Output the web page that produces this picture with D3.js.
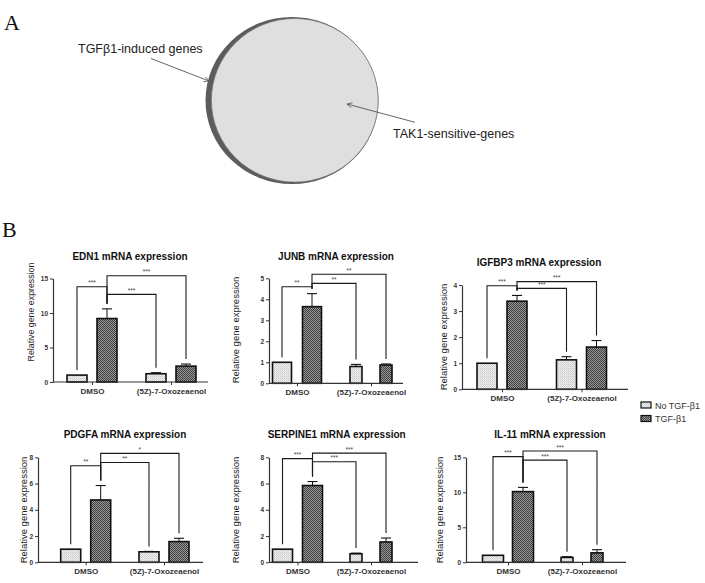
<!DOCTYPE html>
<html><head><meta charset="utf-8">
<script src="https://cdn.jsdelivr.net/npm/d3@7/dist/d3.min.js"></script>
<style>
html,body{margin:0;padding:0;background:#fff;}
svg{display:block;}
</style></head>
<body>
<svg id="fig" width="705" height="583"></svg>
<script>
// ---------------- DATA ----------------
const genes = ["EDN1", "JUNB", "IGFBP3", "PDGFA", "SERPINE1", "IL-11"];
const groups = ["DMSO", "(5Z)-7-Oxozeaenol"];
const series = ["No TGF-β1", "TGF-β1"];
const dmsoNo   = [1.0, 1.0, 1.0, 1.0, 1.0, 1.0];
const dmsoTgf  = [9.2, 3.65, 3.38, 4.75, 5.85, 10.1];
const oxoNo    = [1.2, 0.8, 1.13, 0.8, 0.65, 0.7];
const oxoTgf   = [2.3, 0.87, 1.62, 1.58, 1.55, 1.35];
const errDmsoNo  = [0, 0, 0, 0, 0, 0];
const errDmsoTgf = [1.4, 0.62, 0.22, 1.1, 0.3, 0.6];
const errOxoNo   = [0.15, 0.1, 0.12, 0.03, 0.05, 0.1];
const errOxoTgf  = [0.3, 0.05, 0.25, 0.25, 0.3, 0.45];
const yMax = [15, 5, 4, 8, 8, 15];
const yTicks = [[0,5,10,15],[0,1,2,3,4,5],[0,1,2,3,4],[0,2,4,6,8],[0,2,4,6,8],[0,5,10,15]];
// significance brackets (height in data units): DMSO TGF vs DMSO No / vs Oxo No / vs Oxo TGF
const brLeft = [13.8, 4.6, 3.97, 7.36, 7.9, 15.1];
const brNear = [12.7, 4.76, 3.87, 7.6, 7.66, 14.6];
const brFar  = [15.4, 5.19, 4.13, 8.3, 8.32, 15.9];
const starsLeft = ["***", "**", "***", "**", "***", "***"];
const starsNear = ["***", "**", "***", "**", "***", "***"];
const starsFar  = ["***", "**", "***", "*", "***", "***"];
const vennLabels = ["TGFβ1-induced genes", "TAK1-sensitive-genes"];

// ---------------- LAYOUT ----------------
const layout = [
 {x0:53,  x1:208, yb:382,   yt:278.5, g:[92,171],    bw:[20,20], tx:130,   ty:259.5, lx:31,    ly:312, lfs:8.8},
 {x0:269, x1:403, yb:383.3, yt:278.3, g:[297,371],   bw:[19,12], tx:336,   ty:259.5, lx:235.5, ly:330, lfs:9.5},
 {x0:462, x1:628, yb:389.3, yt:285,   g:[502,581.5], bw:[20,20], tx:539,   ty:266,   lx:444,   ly:337, lfs:9.5},
 {x0:38,  x1:203, yb:562.3, yt:457.3, g:[85.7,164],  bw:[20,20], tx:125,   ty:438,   lx:24,    ly:510, lfs:9.5},
 {x0:269, x1:418, yb:562.3, yt:457.3, g:[297.5,371], bw:[20,12], tx:336.7, ty:438,   lx:235.5, ly:510, lfs:9.5},
 {x0:466, x1:626, yb:562.3, yt:457.3, g:[508,582],   bw:[21,12], tx:550,   ty:438,   lx:440,   ly:510, lfs:9.5}
];
const SANS = "'Liberation Sans', Arial, sans-serif";
const SERIF = "'Liberation Serif', 'Times New Roman', serif";

const svg = d3.select("#fig");
const defs = svg.append("defs");
// patterns
const pL = defs.append("pattern").attr("id","pLight").attr("patternUnits","userSpaceOnUse").attr("width",2).attr("height",2);
pL.append("rect").attr("width",2).attr("height",2).attr("fill","#eeeeee");
pL.append("rect").attr("width",1).attr("height",1).attr("fill","#c8c8c8");
pL.append("rect").attr("x",1).attr("y",1).attr("width",1).attr("height",1).attr("fill","#d8d8d8");
const pD = defs.append("pattern").attr("id","pDark").attr("patternUnits","userSpaceOnUse").attr("width",2).attr("height",2);
pD.append("rect").attr("width",2).attr("height",2).attr("fill","#9a9a9a");
pD.append("rect").attr("width",1).attr("height",1).attr("fill","#3c3c3c");
pD.append("rect").attr("x",1).attr("y",1).attr("width",1).attr("height",1).attr("fill","#3c3c3c");
const fills = ["url(#pLight)","url(#pDark)"];
defs.append("marker").attr("id","arr").attr("viewBox","0 0 10 10").attr("refX",9).attr("refY",5)
  .attr("markerWidth",7).attr("markerHeight",7).attr("orient","auto-start-reverse")
  .append("path").attr("d","M1,1 L9,5 L1,9").attr("fill","none").attr("stroke","#555").attr("stroke-width",1.2);

// ---------------- PANEL A ----------------
svg.append("text").attr("x",4).attr("y",30).style("font-family",SERIF).style("font-size","22px").attr("fill","#111").text("A");
svg.append("text").attr("x",2).attr("y",237).style("font-family",SERIF).style("font-size","22px").attr("fill","#111").text("B");
svg.append("ellipse").attr("cx",292).attr("cy",100.5).attr("rx",86.5).attr("ry",83.5).attr("fill","#5c5c5c");
svg.append("ellipse").attr("cx",294.8).attr("cy",100.3).attr("rx",83.4).attr("ry",81.8).attr("fill","#dfdfdf").attr("stroke","#777").attr("stroke-width",0.7);
svg.append("text").attr("x",78).attr("y",52.5).style("font-family",SANS).style("font-size","12.5px").attr("fill","#222").text(vennLabels[0]);
svg.append("text").attr("x",393).attr("y",137.5).style("font-family",SANS).style("font-size","12.5px").attr("fill","#222").text(vennLabels[1]);
svg.append("line").attr("x1",151).attr("y1",58.5).attr("x2",209).attr("y2",81).attr("stroke","#555").attr("stroke-width",0.9).attr("marker-end","url(#arr)");
svg.append("line").attr("x1",415).attr("y1",122.3).attr("x2",347).attr("y2",104).attr("stroke","#555").attr("stroke-width",0.9).attr("marker-end","url(#arr)");

// ---------------- PANEL B ----------------
genes.forEach((gene, i) => {
  const L = layout[i];
  const g = svg.append("g").style("font-family",SANS);
  const y = d3.scaleLinear().domain([0, yMax[i]]).range([L.yb, L.yt]);
  const x = d3.scalePoint().domain(groups).range(L.g);
  const xs = d3.scalePoint().domain(series).range([-15, 15]);
  const bars = [
    {grp:0, s:0, v:dmsoNo[i], e:errDmsoNo[i]},
    {grp:0, s:1, v:dmsoTgf[i], e:errDmsoTgf[i]},
    {grp:1, s:0, v:oxoNo[i], e:errOxoNo[i]},
    {grp:1, s:1, v:oxoTgf[i], e:errOxoTgf[i]}
  ];
  bars.forEach(b => { b.cx = x(groups[b.grp]) + xs(series[b.s]); b.w = L.bw[b.grp]; });

  // error bars
  bars.filter(b => b.e > 0).forEach(b => {
    g.append("line").attr("x1",b.cx).attr("x2",b.cx).attr("y1",y(b.v)).attr("y2",y(b.v+b.e)).attr("stroke","#111").attr("stroke-width",1);
    g.append("line").attr("x1",b.cx-5).attr("x2",b.cx+5).attr("y1",y(b.v+b.e)).attr("y2",y(b.v+b.e)).attr("stroke","#111").attr("stroke-width",1.1);
  });
  // bars
  g.selectAll("rect.bar").data(bars).join("rect").attr("class","bar")
    .attr("x", b => b.cx - b.w/2).attr("width", b => b.w)
    .attr("y", b => y(b.v)).attr("height", b => y(0) - y(b.v))
    .attr("fill", b => fills[b.s]).attr("stroke","#111").attr("stroke-width",1.6);

  // brackets
  const top = b => y(b.v + b.e) - 5;
  const comps = [[bars[0], brLeft[i], starsLeft[i]], [bars[2], brNear[i], starsNear[i]], [bars[3], brFar[i], starsFar[i]]];
  comps.forEach(([b, lev, st]) => {
    const yy = y(lev);
    g.append("path").attr("d", `M${bars[1].cx},${top(bars[1])}V${yy}H${b.cx}V${top(b)}`)
      .attr("fill","none").attr("stroke","#1a1a1a").attr("stroke-width",1.1);
    g.append("text").attr("x",(bars[1].cx + b.cx)/2).attr("y",yy-1.5).attr("text-anchor","middle")
      .style("font-size","6.5px").attr("fill","#444").text(st);
  });

  // axes
  const ya = g.append("g").attr("transform",`translate(${L.x0},0)`)
    .call(d3.axisLeft(y).tickValues(yTicks[i]).tickSize(3).tickPadding(2).tickSizeOuter(0).tickFormat(d3.format("d")));
  ya.select(".domain").attr("stroke","#333").attr("stroke-width",1.2);
  ya.selectAll(".tick line").attr("stroke","#333").attr("stroke-width",1);
  ya.selectAll(".tick text").style("font-size","6.5px").style("font-weight","bold").style("font-family",SANS).attr("fill","#333");
  const xa = g.append("g").attr("transform",`translate(0,${L.yb})`)
    .call(d3.axisBottom(x).tickSize(3).tickSizeOuter(0).tickPadding(3));
  xa.select(".domain").remove();
  xa.selectAll(".tick line").attr("stroke","#333").attr("stroke-width",1);
  xa.selectAll(".tick text").style("font-size","8px").style("font-weight","bold").style("font-family",SANS).attr("fill","#333");
  g.append("line").attr("x1",L.x0).attr("x2",L.x1).attr("y1",L.yb).attr("y2",L.yb).attr("stroke","#333").attr("stroke-width",1.2);

  // title & y label
  g.append("text").attr("x",L.tx).attr("y",L.ty).attr("text-anchor","middle").style("font-size","10px").style("font-weight","bold").attr("fill","#111").text(gene + " mRNA expression");
  g.append("text").attr("transform",`translate(${L.lx + L.lfs*0.35},${L.ly}) rotate(-90)`).attr("text-anchor","middle")
    .style("font-size",L.lfs + "px").attr("fill","#1a1a1a").text("Relative gene expression");
});

// legend
const lg = svg.append("g").style("font-family",SANS);
series.forEach((s, k) => {
  lg.append("rect").attr("x",641).attr("y",402 + k*13.5).attr("width",10).attr("height",6).attr("fill",fills[k]).attr("stroke","#111").attr("stroke-width",1.2);
  lg.append("text").attr("x",655).attr("y",408.5 + k*13.5).style("font-size","9px").attr("fill","#333").text(s);
});
</script>
</body></html>
